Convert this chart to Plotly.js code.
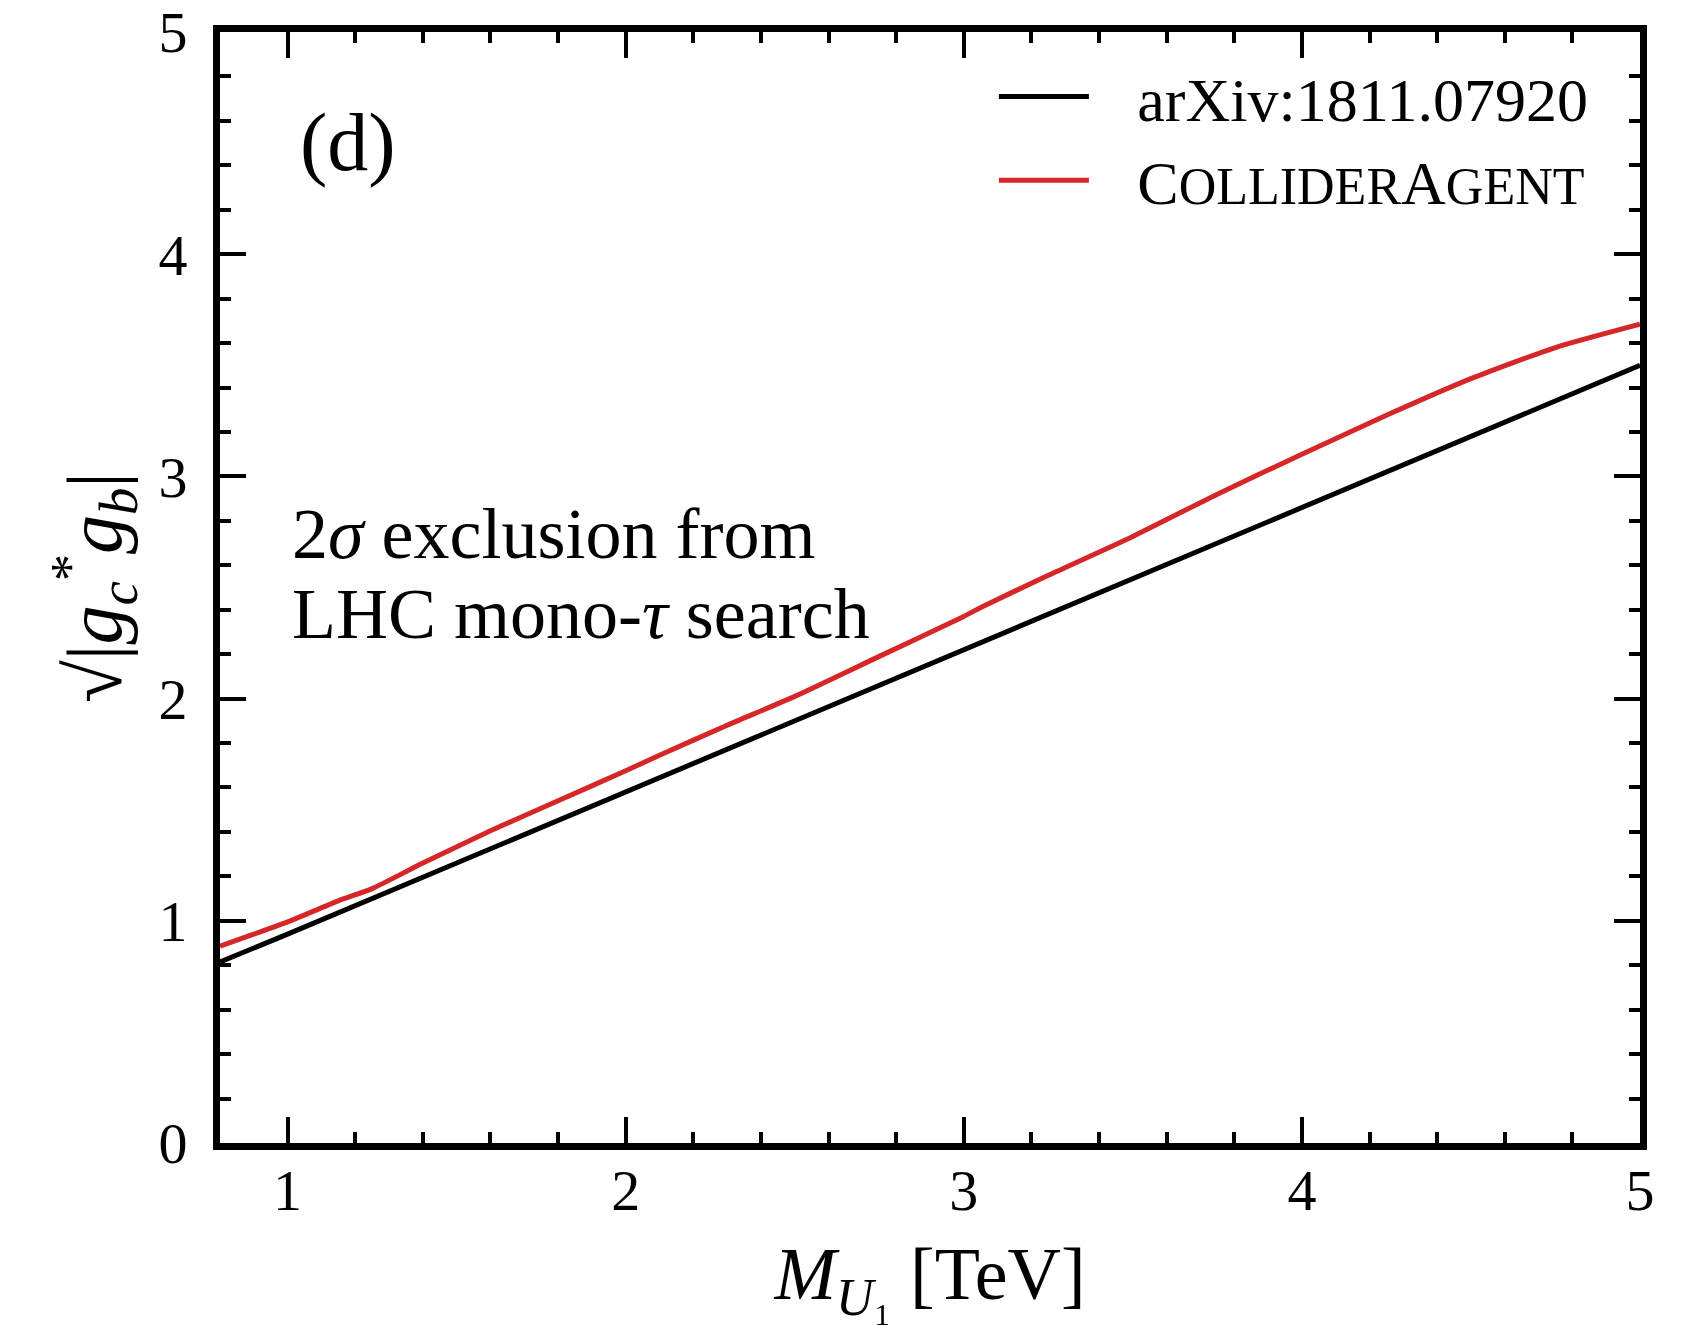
<!DOCTYPE html>
<html>
<head>
<meta charset="utf-8">
<script src="https://cdn.plot.ly/plotly-3.0.1.min.js"></script>
<style>
  html, body { margin: 0; padding: 0; background: #ffffff; }
  #chart { width: 1702px; height: 1326px; }
</style>
</head>
<body>
<div id="chart"></div>
<script>
// ---- data ----
const massArxiv = [0.8, 1.0, 1.5, 2.0, 2.5, 3.0, 3.5, 4.0, 4.5, 5.0];
const couplingArxiv = [0.815, 0.94, 1.26, 1.58, 1.90, 2.225, 2.54, 2.86, 3.185, 3.50];

const massAgent = [0.8, 0.9, 1.0, 1.15, 1.25, 1.4, 1.6, 1.8, 2.0, 2.1, 2.3, 2.5, 2.75, 3.0, 3.05, 3.25, 3.5, 3.75, 4.0, 4.25, 4.5, 4.75, 5.0];
const couplingAgent = [0.886, 0.94, 0.995, 1.09, 1.145, 1.26, 1.405, 1.54, 1.675, 1.745, 1.88, 2.01, 2.19, 2.37, 2.41, 2.555, 2.73, 2.92, 3.10, 3.275, 3.44, 3.58, 3.685];

const GAP = "\u2002\u2009";
const seriesNames = [GAP + "arXiv:1811.07920",
  GAP + "C<span style=\"font-size:52px\">OLLIDER</span>A<span style=\"font-size:52px\">GENT</span>"];
const seriesColors = ["#000000", "#d62728"];

const xTickVals = [1, 2, 3, 4, 5];
const yTickVals = [0, 1, 2, 3, 4, 5];

const FONT = "Liberation Serif, Times New Roman, serif";

const traces = [
  { x: massArxiv, y: couplingArxiv, type: "scatter", mode: "lines",
    name: seriesNames[0], line: { color: seriesColors[0], width: 5 } },
  { x: massAgent, y: couplingAgent, type: "scatter", mode: "lines",
    name: seriesNames[1], line: { color: seriesColors[1], width: 5, shape: "spline", smoothing: 0.6 } }
];

const axisCommon = {
  showline: true, linecolor: "#000", linewidth: 7, mirror: "allticks",
  ticks: "inside", ticklen: 26, tickwidth: 4, tickcolor: "#000",
  showgrid: false, zeroline: false, ticklabeloverflow: "allow",
  tickfont: { family: FONT, size: 58, color: "#000" },
  minor: { ticks: "inside", ticklen: 11, tickwidth: 4, tickcolor: "#000", dtick: 0.2, showgrid: false }
};

const layout = {
  width: 1702, height: 1326,
  paper_bgcolor: "#fff", plot_bgcolor: "#fff",
  margin: { l: 220, r: 62, t: 32, b: 183, pad: 0 },
  showlegend: true,
  legend: {
    x: 0.545, y: 0.984, xanchor: "left", yanchor: "top",
    bgcolor: "rgba(0,0,0,0)", borderwidth: 0, itemwidth: 90,
    font: { family: FONT, size: 62, color: "#000" }
  },
  xaxis: Object.assign({}, axisCommon, {
    range: [0.8, 5], tickvals: xTickVals, ticktext: xTickVals.map(String),
    ticklabelstandoff: -10,
    title: { text: "<i>M</i><sub><i>U</i>\u2081</sub> [TeV]", font: { family: FONT, size: 74, color: "#000" }, standoff: 40 }
  }),
  yaxis: Object.assign({}, axisCommon, {
    range: [0, 5], tickvals: yTickVals, ticktext: yTickVals.map(String),
    ticklabelstandoff: 14,
    title: { text: "\u221A|<i>g</i><sub><i>c</i></sub><sup>*</sup><i>g</i><sub><i>b</i></sub>|", font: { family: FONT, size: 78, color: "#000" }, standoff: 14 }
  }),
  annotations: [
    { xref: "paper", yref: "paper", x: 0.0547, y: 0.9006, xanchor: "left", yanchor: "middle",
      text: "(d)", showarrow: false, font: { family: FONT, size: 82, color: "#000" } },
    { xref: "paper", yref: "paper", x: 0.0495, y: 0.5482, xanchor: "left", yanchor: "middle",
      text: "2<i>\u03C3</i> exclusion from", showarrow: false, font: { family: FONT, size: 72, color: "#000" } },
    { xref: "paper", yref: "paper", x: 0.0495, y: 0.4762, xanchor: "left", yanchor: "middle",
      text: "LHC mono-<i>\u03C4</i> search", showarrow: false, font: { family: FONT, size: 72, color: "#000" } }
  ]
};

Plotly.newPlot("chart", traces, layout, { displayModeBar: false, staticPlot: true });
</script>
</body>
</html>
